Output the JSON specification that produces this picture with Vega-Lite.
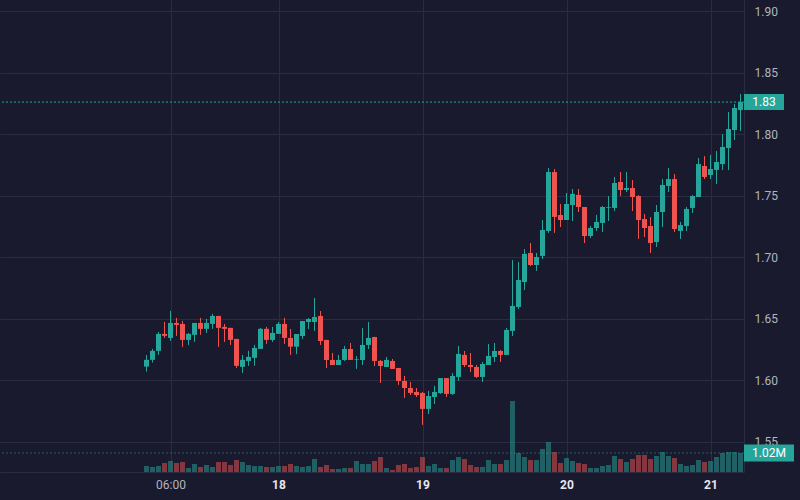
{
  "$schema": "https://vega.github.io/schema/vega-lite/v6.json",
  "width": 744,
  "height": 472,
  "autosize": {"type": "none"},
  "padding": {"left": 0, "top": 0, "right": 56, "bottom": 28},
  "background": "#1a1a2e",
  "data": {
    "values": [
      {"t": "2024-03-17T02:00Z", "o": 1.6111, "h": 1.6206, "l": 1.6070, "c": 1.6166, "v": 322000},
      {"t": "2024-03-17T03:00Z", "o": 1.6166, "h": 1.6255, "l": 1.6144, "c": 1.6239, "v": 268000},
      {"t": "2024-03-17T04:00Z", "o": 1.6239, "h": 1.6393, "l": 1.6206, "c": 1.6377, "v": 322000},
      {"t": "2024-03-17T05:00Z", "o": 1.6377, "h": 1.6474, "l": 1.6344, "c": 1.6361, "v": 483000},
      {"t": "2024-03-17T06:00Z", "o": 1.6344, "h": 1.6564, "l": 1.6320, "c": 1.6466, "v": 591000},
      {"t": "2024-03-17T07:00Z", "o": 1.6466, "h": 1.6507, "l": 1.6361, "c": 1.6450, "v": 483000},
      {"t": "2024-03-17T08:00Z", "o": 1.6458, "h": 1.6483, "l": 1.6271, "c": 1.6328, "v": 537000},
      {"t": "2024-03-17T09:00Z", "o": 1.6328, "h": 1.6385, "l": 1.6287, "c": 1.6377, "v": 215000},
      {"t": "2024-03-17T10:00Z", "o": 1.6369, "h": 1.6466, "l": 1.6312, "c": 1.6466, "v": 429000},
      {"t": "2024-03-17T11:00Z", "o": 1.6466, "h": 1.6507, "l": 1.6369, "c": 1.6418, "v": 268000},
      {"t": "2024-03-17T12:00Z", "o": 1.6418, "h": 1.6499, "l": 1.6385, "c": 1.6466, "v": 376000},
      {"t": "2024-03-17T13:00Z", "o": 1.6458, "h": 1.6540, "l": 1.6418, "c": 1.6523, "v": 268000},
      {"t": "2024-03-17T14:00Z", "o": 1.6523, "h": 1.6523, "l": 1.6271, "c": 1.6426, "v": 537000},
      {"t": "2024-03-17T15:00Z", "o": 1.6434, "h": 1.6458, "l": 1.6312, "c": 1.6418, "v": 537000},
      {"t": "2024-03-17T16:00Z", "o": 1.6426, "h": 1.6426, "l": 1.6287, "c": 1.6328, "v": 376000},
      {"t": "2024-03-17T17:00Z", "o": 1.6336, "h": 1.6336, "l": 1.6100, "c": 1.6117, "v": 644000},
      {"t": "2024-03-17T18:00Z", "o": 1.6109, "h": 1.6206, "l": 1.6060, "c": 1.6166, "v": 537000},
      {"t": "2024-03-17T19:00Z", "o": 1.6157, "h": 1.6239, "l": 1.6117, "c": 1.6190, "v": 376000},
      {"t": "2024-03-17T20:00Z", "o": 1.6182, "h": 1.6288, "l": 1.6117, "c": 1.6263, "v": 322000},
      {"t": "2024-03-17T21:00Z", "o": 1.6255, "h": 1.6426, "l": 1.6255, "c": 1.6418, "v": 322000},
      {"t": "2024-03-17T22:00Z", "o": 1.6418, "h": 1.6434, "l": 1.6296, "c": 1.6328, "v": 268000},
      {"t": "2024-03-17T23:00Z", "o": 1.6328, "h": 1.6434, "l": 1.6312, "c": 1.6385, "v": 268000},
      {"t": "2024-03-18T00:00Z", "o": 1.6377, "h": 1.6474, "l": 1.6377, "c": 1.6458, "v": 322000},
      {"t": "2024-03-18T01:00Z", "o": 1.6458, "h": 1.6507, "l": 1.6296, "c": 1.6344, "v": 322000},
      {"t": "2024-03-18T02:00Z", "o": 1.6344, "h": 1.6417, "l": 1.6206, "c": 1.6273, "v": 429000},
      {"t": "2024-03-18T03:00Z", "o": 1.6273, "h": 1.6376, "l": 1.6214, "c": 1.6376, "v": 322000},
      {"t": "2024-03-18T04:00Z", "o": 1.6360, "h": 1.6482, "l": 1.6336, "c": 1.6482, "v": 268000},
      {"t": "2024-03-18T05:00Z", "o": 1.6474, "h": 1.6506, "l": 1.6417, "c": 1.6498, "v": 322000},
      {"t": "2024-03-18T06:00Z", "o": 1.6474, "h": 1.6669, "l": 1.6401, "c": 1.6514, "v": 698000},
      {"t": "2024-03-18T07:00Z", "o": 1.6523, "h": 1.6563, "l": 1.6287, "c": 1.6319, "v": 268000},
      {"t": "2024-03-18T08:00Z", "o": 1.6328, "h": 1.6328, "l": 1.6100, "c": 1.6165, "v": 376000},
      {"t": "2024-03-18T09:00Z", "o": 1.6165, "h": 1.6222, "l": 1.6124, "c": 1.6124, "v": 161000},
      {"t": "2024-03-18T10:00Z", "o": 1.6124, "h": 1.6206, "l": 1.6124, "c": 1.6165, "v": 161000},
      {"t": "2024-03-18T11:00Z", "o": 1.6165, "h": 1.6279, "l": 1.6157, "c": 1.6254, "v": 215000},
      {"t": "2024-03-18T12:00Z", "o": 1.6254, "h": 1.6303, "l": 1.6165, "c": 1.6165, "v": 215000},
      {"t": "2024-03-18T13:00Z", "o": 1.6168, "h": 1.6197, "l": 1.6092, "c": 1.6173, "v": 591000},
      {"t": "2024-03-18T14:00Z", "o": 1.6165, "h": 1.6425, "l": 1.6124, "c": 1.6287, "v": 429000},
      {"t": "2024-03-18T15:00Z", "o": 1.6287, "h": 1.6474, "l": 1.6254, "c": 1.6344, "v": 429000},
      {"t": "2024-03-18T16:00Z", "o": 1.6352, "h": 1.6352, "l": 1.6116, "c": 1.6157, "v": 591000},
      {"t": "2024-03-18T17:00Z", "o": 1.6157, "h": 1.6165, "l": 1.5978, "c": 1.6116, "v": 805000},
      {"t": "2024-03-18T18:00Z", "o": 1.6108, "h": 1.6189, "l": 1.6108, "c": 1.6165, "v": 215000},
      {"t": "2024-03-18T19:00Z", "o": 1.6157, "h": 1.6173, "l": 1.6092, "c": 1.6092, "v": 107000},
      {"t": "2024-03-18T20:00Z", "o": 1.6100, "h": 1.6100, "l": 1.5962, "c": 1.5994, "v": 376000},
      {"t": "2024-03-18T21:00Z", "o": 1.5994, "h": 1.6035, "l": 1.5856, "c": 1.5937, "v": 429000},
      {"t": "2024-03-18T22:00Z", "o": 1.5937, "h": 1.5986, "l": 1.5880, "c": 1.5897, "v": 215000},
      {"t": "2024-03-18T23:00Z", "o": 1.5905, "h": 1.5937, "l": 1.5864, "c": 1.5880, "v": 268000},
      {"t": "2024-03-19T00:00Z", "o": 1.5897, "h": 1.5905, "l": 1.5637, "c": 1.5767, "v": 805000},
      {"t": "2024-03-19T01:00Z", "o": 1.5767, "h": 1.5913, "l": 1.5726, "c": 1.5872, "v": 322000},
      {"t": "2024-03-19T02:00Z", "o": 1.5864, "h": 1.5954, "l": 1.5807, "c": 1.5905, "v": 429000},
      {"t": "2024-03-19T03:00Z", "o": 1.5896, "h": 1.6018, "l": 1.5889, "c": 1.6018, "v": 215000},
      {"t": "2024-03-19T04:00Z", "o": 1.6018, "h": 1.6018, "l": 1.5864, "c": 1.5889, "v": 215000},
      {"t": "2024-03-19T05:00Z", "o": 1.5889, "h": 1.6059, "l": 1.5881, "c": 1.6035, "v": 644000},
      {"t": "2024-03-19T06:00Z", "o": 1.6027, "h": 1.6279, "l": 1.5994, "c": 1.6214, "v": 805000},
      {"t": "2024-03-19T07:00Z", "o": 1.6206, "h": 1.6238, "l": 1.6108, "c": 1.6124, "v": 698000},
      {"t": "2024-03-19T08:00Z", "o": 1.6124, "h": 1.6222, "l": 1.6067, "c": 1.6108, "v": 376000},
      {"t": "2024-03-19T09:00Z", "o": 1.6108, "h": 1.6124, "l": 1.6019, "c": 1.6027, "v": 268000},
      {"t": "2024-03-19T10:00Z", "o": 1.6027, "h": 1.6149, "l": 1.5986, "c": 1.6132, "v": 268000},
      {"t": "2024-03-19T11:00Z", "o": 1.6124, "h": 1.6295, "l": 1.6124, "c": 1.6198, "v": 644000},
      {"t": "2024-03-19T12:00Z", "o": 1.6189, "h": 1.6303, "l": 1.6149, "c": 1.6238, "v": 429000},
      {"t": "2024-03-19T13:00Z", "o": 1.6238, "h": 1.6246, "l": 1.6149, "c": 1.6206, "v": 429000},
      {"t": "2024-03-19T14:00Z", "o": 1.6206, "h": 1.6425, "l": 1.6206, "c": 1.6409, "v": 644000},
      {"t": "2024-03-19T15:00Z", "o": 1.6401, "h": 1.6978, "l": 1.6360, "c": 1.6604, "v": 3812000},
      {"t": "2024-03-19T16:00Z", "o": 1.6596, "h": 1.6962, "l": 1.6580, "c": 1.6815, "v": 1020000},
      {"t": "2024-03-19T17:00Z", "o": 1.6799, "h": 1.7067, "l": 1.6734, "c": 1.7027, "v": 805000},
      {"t": "2024-03-19T18:00Z", "o": 1.7035, "h": 1.7116, "l": 1.6929, "c": 1.6937, "v": 644000},
      {"t": "2024-03-19T19:00Z", "o": 1.6937, "h": 1.7035, "l": 1.6889, "c": 1.7002, "v": 644000},
      {"t": "2024-03-19T20:00Z", "o": 1.7011, "h": 1.7303, "l": 1.6986, "c": 1.7222, "v": 1235000},
      {"t": "2024-03-19T21:00Z", "o": 1.7214, "h": 1.7726, "l": 1.7198, "c": 1.7693, "v": 1611000},
      {"t": "2024-03-19T22:00Z", "o": 1.7693, "h": 1.7718, "l": 1.7198, "c": 1.7328, "v": 1074000},
      {"t": "2024-03-19T23:00Z", "o": 1.7344, "h": 1.7433, "l": 1.7246, "c": 1.7303, "v": 483000},
      {"t": "2024-03-20T00:00Z", "o": 1.7303, "h": 1.7523, "l": 1.7303, "c": 1.7433, "v": 752000},
      {"t": "2024-03-20T01:00Z", "o": 1.7425, "h": 1.7555, "l": 1.7295, "c": 1.7515, "v": 591000},
      {"t": "2024-03-20T02:00Z", "o": 1.7507, "h": 1.7555, "l": 1.7368, "c": 1.7409, "v": 483000},
      {"t": "2024-03-20T03:00Z", "o": 1.7409, "h": 1.7409, "l": 1.7116, "c": 1.7173, "v": 429000},
      {"t": "2024-03-20T04:00Z", "o": 1.7173, "h": 1.7254, "l": 1.7157, "c": 1.7238, "v": 215000},
      {"t": "2024-03-20T05:00Z", "o": 1.7238, "h": 1.7344, "l": 1.7214, "c": 1.7287, "v": 215000},
      {"t": "2024-03-20T06:00Z", "o": 1.7279, "h": 1.7417, "l": 1.7206, "c": 1.7409, "v": 322000},
      {"t": "2024-03-20T07:00Z", "o": 1.7403, "h": 1.7498, "l": 1.7295, "c": 1.7409, "v": 376000},
      {"t": "2024-03-20T08:00Z", "o": 1.7401, "h": 1.7653, "l": 1.7376, "c": 1.7604, "v": 859000},
      {"t": "2024-03-20T09:00Z", "o": 1.7612, "h": 1.7693, "l": 1.7498, "c": 1.7547, "v": 698000},
      {"t": "2024-03-20T10:00Z", "o": 1.7547, "h": 1.7693, "l": 1.7531, "c": 1.7563, "v": 537000},
      {"t": "2024-03-20T11:00Z", "o": 1.7563, "h": 1.7628, "l": 1.7376, "c": 1.7490, "v": 698000},
      {"t": "2024-03-20T12:00Z", "o": 1.7498, "h": 1.7506, "l": 1.7149, "c": 1.7303, "v": 913000},
      {"t": "2024-03-20T13:00Z", "o": 1.7311, "h": 1.7352, "l": 1.7165, "c": 1.7238, "v": 913000},
      {"t": "2024-03-20T14:00Z", "o": 1.7254, "h": 1.7327, "l": 1.7035, "c": 1.7116, "v": 698000},
      {"t": "2024-03-20T15:00Z", "o": 1.7124, "h": 1.7425, "l": 1.7084, "c": 1.7368, "v": 859000},
      {"t": "2024-03-20T16:00Z", "o": 1.7368, "h": 1.7636, "l": 1.7246, "c": 1.7588, "v": 1074000},
      {"t": "2024-03-20T17:00Z", "o": 1.7580, "h": 1.7726, "l": 1.7531, "c": 1.7636, "v": 859000},
      {"t": "2024-03-20T18:00Z", "o": 1.7636, "h": 1.7677, "l": 1.7206, "c": 1.7230, "v": 752000},
      {"t": "2024-03-20T19:00Z", "o": 1.7214, "h": 1.7287, "l": 1.7149, "c": 1.7262, "v": 429000},
      {"t": "2024-03-20T20:00Z", "o": 1.7254, "h": 1.7409, "l": 1.7214, "c": 1.7393, "v": 322000},
      {"t": "2024-03-20T21:00Z", "o": 1.7401, "h": 1.7506, "l": 1.7360, "c": 1.7498, "v": 376000},
      {"t": "2024-03-20T22:00Z", "o": 1.7490, "h": 1.7807, "l": 1.7490, "c": 1.7758, "v": 644000},
      {"t": "2024-03-20T23:00Z", "o": 1.7742, "h": 1.7823, "l": 1.7636, "c": 1.7653, "v": 537000},
      {"t": "2024-03-21T00:00Z", "o": 1.7669, "h": 1.7832, "l": 1.7636, "c": 1.7718, "v": 591000},
      {"t": "2024-03-21T01:00Z", "o": 1.7710, "h": 1.7864, "l": 1.7596, "c": 1.7775, "v": 805000},
      {"t": "2024-03-21T02:00Z", "o": 1.7758, "h": 1.8002, "l": 1.7710, "c": 1.7897, "v": 1020000},
      {"t": "2024-03-21T03:00Z", "o": 1.7889, "h": 1.8181, "l": 1.7710, "c": 1.8043, "v": 1074000},
      {"t": "2024-03-21T04:00Z", "o": 1.8035, "h": 1.8246, "l": 1.7953, "c": 1.8214, "v": 1074000},
      {"t": "2024-03-21T05:00Z", "o": 1.8197, "h": 1.8327, "l": 1.8027, "c": 1.8262, "v": 1020000}
    ]
  },
  "layer": [
    {
      "layer": [
        {
          "mark": {"type": "bar", "width": 5, "opacity": 0.5},
          "encoding": {
            "x": {
              "field": "t",
              "type": "temporal",
              "scale": {
                "type": "utc",
                "padding": 0,
                "domain": [
                  {"year": 2024, "month": 3, "date": 16, "hours": 1, "minutes": 35, "utc": true},
                  {"year": 2024, "month": 3, "date": 21, "hours": 5, "minutes": 35, "utc": true}
                ]
              }
            },
            "y": {
              "field": "v",
              "type": "quantitative",
              "scale": {"domain": [0, 25340000], "nice": false},
              "axis": null
            },
            "color": {
              "condition": {"test": "datum.c >= datum.o", "value": "#26a69a"},
              "value": "#ef5350"
            }
          }
        },
        {
          "transform": [{"aggregate": [{"op": "argmax", "field": "t", "as": "last"}]}],
          "mark": {"type": "rule", "strokeDash": [2, 2], "color": "#26a69a", "opacity": 0.5, "strokeWidth": 1},
          "encoding": {
            "y": {"field": "last.v", "type": "quantitative", "axis": null}
          }
        },
        {
          "transform": [{"aggregate": [{"op": "argmax", "field": "t", "as": "last"}]}],
          "mark": {"type": "point", "shape": "M0,-0.34H2V0.34H0Z", "filled": true, "size": 2500, "opacity": 1, "strokeWidth": 0, "color": "#26a69a"},
          "encoding": {
            "x": {"value": "width"},
            "y": {"field": "last.v", "type": "quantitative", "axis": null}
          }
        },
        {
          "transform": [{"aggregate": [{"op": "argmax", "field": "t", "as": "last"}]}],
          "mark": {"type": "text", "color": "#ffffff", "fontSize": 12, "font": "Roboto", "align": "center", "baseline": "middle", "dx": 25},
          "encoding": {
            "x": {"value": "width"},
            "y": {"field": "last.v", "type": "quantitative", "axis": null},
            "text": {"field": "last.v", "type": "quantitative", "format": ".3s"}
          }
        }
      ]
    },
    {
      "layer": [
        {
          "mark": {"type": "rule", "strokeWidth": 1},
          "encoding": {
            "x": {
              "field": "t",
              "type": "temporal",
              "scale": {
                "type": "utc",
                "padding": 0,
                "domain": [
                  {"year": 2024, "month": 3, "date": 16, "hours": 1, "minutes": 35, "utc": true},
                  {"year": 2024, "month": 3, "date": 21, "hours": 5, "minutes": 35, "utc": true}
                ]
              },
              "axis": {
                "title": null,
                "values": [
                  {"year": 2024, "month": 3, "date": 17, "hours": 6, "utc": true},
                  {"year": 2024, "month": 3, "date": 18, "hours": 0, "utc": true},
                  {"year": 2024, "month": 3, "date": 19, "hours": 0, "utc": true},
                  {"year": 2024, "month": 3, "date": 20, "hours": 0, "utc": true},
                  {"year": 2024, "month": 3, "date": 21, "hours": 0, "utc": true}
                ],
                "labelExpr": "utchours(datum.value) == 0 ? utcFormat(datum.value, '%-d') : utcFormat(datum.value, '%H:%M')",
                "labelFontWeight": {"condition": {"test": "utchours(datum.value) == 0", "value": "bold"}, "value": "normal"},
                "labelColor": {"condition": {"test": "utchours(datum.value) == 0", "value": "#e6e8ee"}, "value": "#b2b5be"},
                "labelFlush": false,
                "labelFontSize": 12,
                "labelPadding": 7,
                "ticks": false,
                "grid": true,
                "gridColor": "#2b2b43",
                "domainColor": "#2b2b43",
                "zindex": 0
              }
            },
            "y": {
              "field": "l",
              "type": "quantitative",
              "scale": {"domain": [1.5254, 1.9092], "nice": false, "zero": false},
              "axis": {
                "orient": "right",
                "title": null,
                "values": [1.55, 1.6, 1.65, 1.7, 1.75, 1.8, 1.85, 1.9],
                "format": ".2f",
                "labelColor": "#b2b5be",
                "labelFontSize": 12,
                "labelPadding": 10,
                "ticks": false,
                "grid": true,
                "gridColor": "#2b2b43",
                "domainColor": "#2b2b43",
                "zindex": 0
              }
            },
            "y2": {"field": "h"},
            "color": {
              "condition": {"test": "datum.c >= datum.o", "value": "#26a69a"},
              "value": "#ef5350"
            }
          }
        },
        {
          "mark": {"type": "bar", "width": 5},
          "encoding": {
            "x": {"field": "t", "type": "temporal"},
            "y": {"field": "o", "type": "quantitative"},
            "y2": {"field": "c"},
            "color": {
              "condition": {"test": "datum.c >= datum.o", "value": "#26a69a"},
              "value": "#ef5350"
            }
          }
        },
        {
          "transform": [{"aggregate": [{"op": "argmax", "field": "t", "as": "last"}]}],
          "mark": {"type": "rule", "strokeDash": [2, 2], "color": "#26a69a", "strokeWidth": 1},
          "encoding": {
            "y": {"field": "last.c", "type": "quantitative"}
          }
        },
        {
          "transform": [{"aggregate": [{"op": "argmax", "field": "t", "as": "last"}]}],
          "mark": {"type": "point", "shape": "M0,-0.4H2V0.4H0Z", "filled": true, "size": 1600, "opacity": 1, "strokeWidth": 0, "color": "#26a69a"},
          "encoding": {
            "x": {"value": "width"},
            "y": {"field": "last.c", "type": "quantitative"}
          }
        },
        {
          "transform": [{"aggregate": [{"op": "argmax", "field": "t", "as": "last"}]}],
          "mark": {"type": "text", "color": "#ffffff", "fontSize": 12, "font": "Roboto", "align": "center", "baseline": "middle", "dx": 20},
          "encoding": {
            "x": {"value": "width"},
            "y": {"field": "last.c", "type": "quantitative"},
            "text": {"field": "last.c", "type": "quantitative", "format": ".2f"}
          }
        }
      ]
    }
  ],
  "resolve": {"scale": {"y": "independent"}},
  "config": {
    "view": {"stroke": null},
    "axis": {"labelFont": "Roboto"},
    "text": {"font": "Roboto"}
  }
}
